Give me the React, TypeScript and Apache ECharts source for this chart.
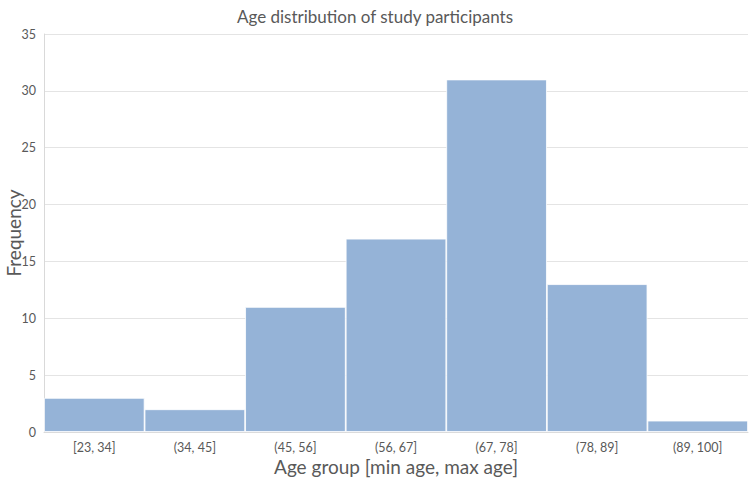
import React, { useEffect, useRef } from "react";
import * as echarts from "echarts";

const categories = ["[23, 34]", "(34, 45]", "(45, 56]", "(56, 67]", "(67, 78]", "(78, 89]", "(89, 100]"];
const frequencies = [3, 2, 11, 17, 31, 13, 1];

const FONT = "Lato, 'Open Sans', sans-serif";

export default function App() {
  const ref = useRef<HTMLDivElement>(null);
  useEffect(() => {
    const chart = echarts.init(ref.current!, null, { renderer: "svg" });
    chart.setOption({
      animation: false,
      title: {
        text: "Age distribution of study participants",
        left: "center",
        top: 3,
        textStyle: { fontFamily: FONT, fontSize: 17, fontWeight: "normal", color: "#595959" },
      },
      grid: { left: 44, right: 2, top: 34, bottom: 54, containLabel: false, outerBoundsMode: "none" },
      xAxis: {
        type: "category",
        data: categories,
        name: "Age group [min age, max age]",
        nameLocation: "middle",
        nameGap: 25,
        nameMoveOverlap: false,
        nameTextStyle: { fontFamily: FONT, fontSize: 19, color: "#595959" },
        axisLine: { show: true, lineStyle: { color: "#d9d9d9" } },
        axisTick: { show: false },
        axisLabel: { fontFamily: FONT, fontSize: 12.5, color: "#595959", margin: 9 },
      },
      yAxis: {
        type: "value",
        min: 0,
        max: 35,
        interval: 5,
        name: "Frequency",
        nameLocation: "middle",
        nameGap: 21,
        nameMoveOverlap: false,
        nameTextStyle: { fontFamily: FONT, fontSize: 19, color: "#595959" },
        axisLine: { show: true, lineStyle: { color: "#d9d9d9" } },
        axisTick: { show: false },
        splitLine: { lineStyle: { color: "#e4e4e4" } },
        axisLabel: { fontFamily: FONT, fontSize: 12.5, color: "#595959", margin: 8 },
      },
      series: [
        {
          type: "bar",
          data: frequencies,
          barCategoryGap: "0%",
          itemStyle: { color: "#95B3D7", borderColor: "#ffffff", borderWidth: 0.8 },
        },
      ],
    });
    return () => chart.dispose();
  }, []);
  return <div ref={ref} style={{ position: "absolute", left: 0, top: 0, width: 750, height: 486 }} />;
}
